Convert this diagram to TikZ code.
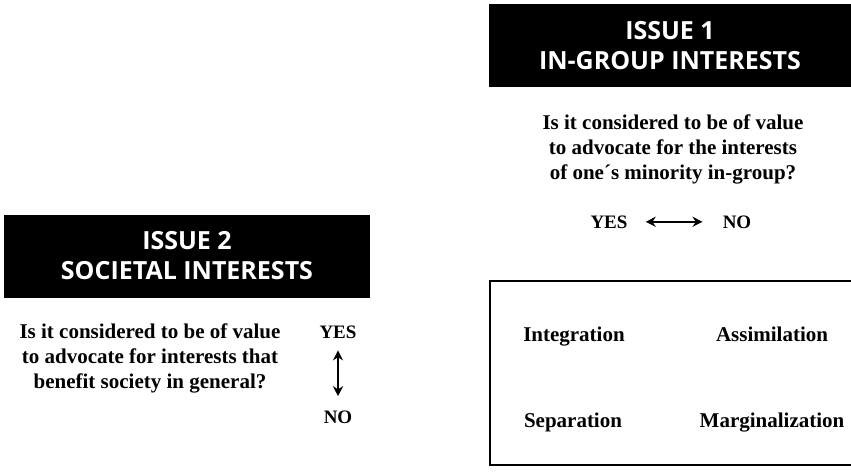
\documentclass[tikz,border=0pt]{standalone}
\usepackage{fontspec}
\setmainfont{Liberation Serif}
\newfontfamily\headfont{Open Sans}
\usetikzlibrary{arrows.meta}
\begin{document}
\begin{tikzpicture}[x=1pt,y=-1pt,
  header/.style={fill=black,text=white,font=\headfont\bfseries\fontsize{25}{30}\selectfont,
    align=center,inner sep=0pt},
  question/.style={font=\bfseries\fontsize{21}{25}\selectfont,align=center,inner sep=1pt},
  answer/.style={font=\bfseries\fontsize{19}{20}\selectfont,inner sep=1pt,anchor=base},
  strategy/.style={font=\bfseries\fontsize{21}{22}\selectfont,inner sep=1pt,anchor=base},
  dblarrow/.style={line width=2.2pt,{Stealth[length=10pt,width=10pt]}-{Stealth[length=10pt,width=10pt]}},
  frame/.style={draw,line width=2.4pt}]
\useasboundingbox (0,0) rectangle (851,474);
\clip (0,0) rectangle (851,474);

% Issue 1: in-group interests
\fill (489,4) rectangle (855,87);
\node[header] (h1) at (670,46) {ISSUE 1\\IN-GROUP INTERESTS};
\node[question] (q1) at (673,149) {Is it considered to be of value\\to advocate for the interests\\of one´s minority in-group?};
\node[answer] (yes1) at (609,228) {YES};
\node[answer] (no1) at (737,228) {NO};
\draw[dblarrow] ([xshift=17pt]yes1.east) -- ([xshift=-19pt]no1.west);

% Issue 2: societal interests
\fill (4,215) rectangle (370,298);
\node[header] (h2) at (187,256) {ISSUE 2\\SOCIETAL INTERESTS};
\node[question] (q2) at (150,358) {Is it considered to be of value\\to advocate for interests that\\benefit society in general?};
\node[answer] (yes2) at (338,338) {YES};
\node[answer] (no2) at (338,423) {NO};
\draw[dblarrow] ([yshift=-11pt]yes2.south) -- ([yshift=13pt]no2.north);

% Acculturation strategies
\node[frame,minimum width=370pt,minimum height=184pt,anchor=north west] (grid) at (489,280) {};
\node[strategy] (int) at (574,341) {Integration};
\node[strategy] (ass) at (772,341) {Assimilation};
\node[strategy] (sep) at (573,427) {Separation};
\node[strategy] (mar) at (772,427) {Marginalization};
\end{tikzpicture}
\end{document}
